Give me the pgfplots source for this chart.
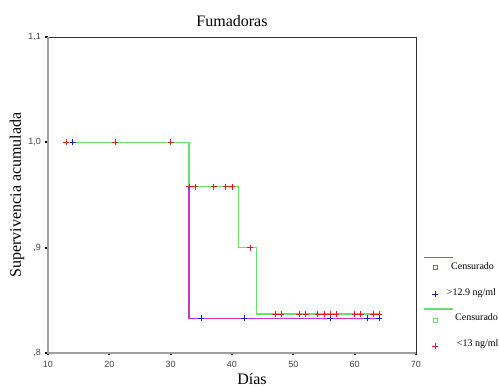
\documentclass[border=0pt]{standalone}
\usepackage{fontspec}
\setmainfont{Liberation Serif}
\newfontfamily\arialf{Liberation Sans}
\usepackage{pgfplots}
\pgfplotsset{compat=1.18}
\definecolor{kmmag}{RGB}{204,51,204}
\definecolor{kmgreen}{RGB}{102,226,102}
\definecolor{kmred}{RGB}{220,30,30}
\definecolor{kmblue}{RGB}{30,30,190}
\begin{document}
\begin{tikzpicture}
\useasboundingbox (0,0) rectangle (499pt,387pt);
\begin{axis}[at={(48pt,34pt)}, anchor=south west, scale only axis,
  width=368pt, height=316pt,
  xmin=10, xmax=70, ymin=0.8, ymax=1.1,
  xtick={10,20,...,70}, ytick={0.8,0.9,1.0,1.1},
  yticklabels={{,8},{,9},{1,0},{1,1}},
  tick label style={font=\arialf\fontsize{9}{10}\selectfont, text=black!75},
  xticklabel style={yshift=-2.5pt},
  yticklabel style={xshift=-1pt},
  /pgf/number format/assume math mode=true,
  axis line style={black!80, line width=0.9pt},
  tick style={black, line width=2.2pt},
  major tick length=2.5pt, tick align=outside,
  xtick pos=bottom, ytick pos=left,
  clip=false]
\draw[gray!75, line width=2pt] (rel axis cs:0,1) -- (rel axis cs:0,0) -- (rel axis cs:1,0);
\addplot[kmmag, line width=1.2pt, const plot, mark=none] coordinates {(14,1.0)(33,0.833)(64,0.833)};
\addplot[kmgreen, line width=1.2pt, const plot, mark=none] coordinates {(13,1.0)(33,0.958)(41,0.9)(44,0.837)(64,0.837)};
\addplot[only marks, mark=+, kmblue, mark size=3pt, line width=0.8pt] coordinates {(14,1.0)(35,0.833)(42,0.833)(56,0.833)(62,0.833)(64,0.833)};
\addplot[only marks, mark=+, kmred, mark size=3pt, line width=0.8pt] coordinates {(13,1.0)(21,1.0)(30,1.0)(33,0.958)(34,0.958)(37,0.958)(39,0.958)(40,0.958)(43,0.9)(47,0.837)(48,0.837)(51,0.837)(52,0.837)(54,0.837)(55,0.837)(56,0.837)(57,0.837)(60,0.837)(61,0.837)(63,0.837)(64,0.837)};
\end{axis}
\node[font=\fontsize{16}{19}\selectfont] at (232pt,366pt) {Fumadoras};
\node[font=\fontsize{16}{19}\selectfont, anchor=base, inner sep=0pt] at (252pt,2pt) {Días};
\node[font=\fontsize{16}{19}\selectfont, rotate=90] at (17pt,192pt) {Supervivencia acumulada};
% legend
\draw[draw={rgb,255:red,204;green,51;blue,204}, line width=1.3pt] (424pt,129.3pt) -- (453pt,129.3pt);
\draw[draw={rgb,255:red,204;green,51;blue,204}, line width=1pt] (433pt,117.3pt) rectangle (437pt,121.3pt);
\node[font=\fontsize{10}{12}\selectfont, anchor=west, inner sep=0pt] at (451pt,121.3pt) {Censurado};
\draw[kmblue, line width=0.8pt] (432pt,93pt) -- (438pt,93pt) (435pt,90pt) -- (435pt,96pt);
\node[font=\fontsize{10}{12}\selectfont, anchor=west, inner sep=0pt] at (446.7pt,94.3pt) {>12.9 ng/ml};
\draw[kmgreen, line width=1.2pt] (424pt,78pt) -- (453pt,78pt);
\draw[kmgreen, line width=0.9pt] (433pt,64.3pt) rectangle (437pt,68.3pt);
\node[font=\fontsize{10}{12}\selectfont, anchor=west, inner sep=0pt] at (455pt,70pt) {Censurado};
\draw[kmred, line width=0.8pt] (432pt,41pt) -- (438pt,41pt) (435pt,38pt) -- (435pt,44pt);
\node[font=\fontsize{10}{12}\selectfont, anchor=west, inner sep=0pt] at (456.7pt,43pt) {<13 ng/ml};
\end{tikzpicture}
\end{document}
